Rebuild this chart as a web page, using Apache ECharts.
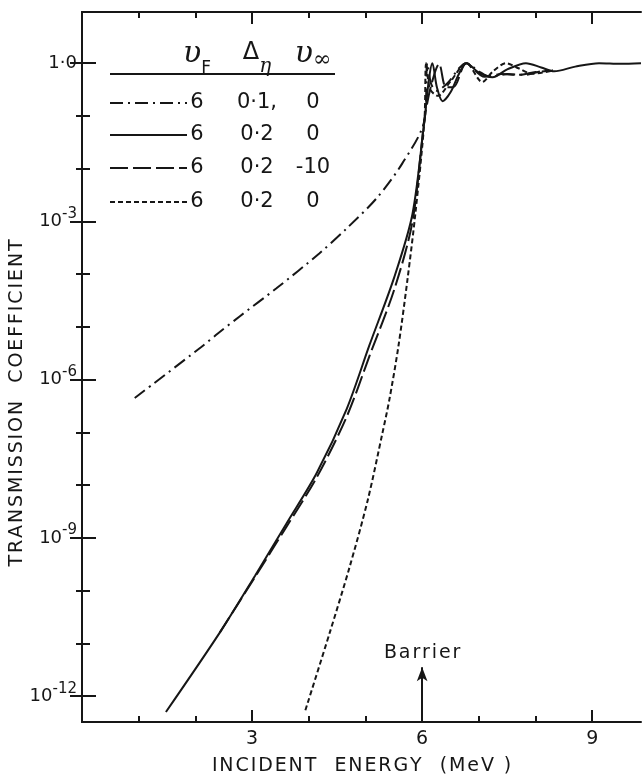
<!DOCTYPE html>
<html>
<head>
<meta charset="utf-8">
<script src="https://cdn.jsdelivr.net/npm/echarts@6/dist/echarts.min.js"></script>
<style>
  html, body { margin: 0; padding: 0; background: #ffffff; }
  #chart { width: 642px; height: 775px; }
</style>
</head>
<body>
<div id="chart"></div>
<script>
// Transmission coefficient versus incident energy (MeV) for four potential sets.

// v_F = 6, Δη = 0.1, v_∞ = 0  (dash-dot)
const energyDashDot = [0.93, 2.11, 2.39, 2.78, 3.43, 4.19, 4.67, 5.19, 5.65, 6.04, 6.09, 6.16, 6.25, 6.45, 6.65, 6.78, 7.0, 7.2, 7.5, 7.8, 8.1, 8.3];
const transDashDot  = [4.5e-7, 4.2e-6, 7.4e-6, 1.58e-5, 5.4e-5, 2.5e-4, 7.4e-4, 2.7e-3, 1.26e-2, 8.3e-2, 1.0, 0.4, 0.3, 0.42, 0.8, 1.0, 0.7, 0.55, 0.62, 0.6, 0.7, 0.74];

// v_F = 6, Δη = 0.2, v_∞ = 0  (solid)
const energySolid = [1.48, 2.43, 3.05, 3.61, 4.14, 4.67, 5.07, 5.51, 5.83, 6.04, 6.12, 6.18, 6.26, 6.36, 6.5, 6.65, 6.78, 7.0, 7.24, 7.5, 7.83, 8.1, 8.33, 8.7, 9.12, 9.5, 9.86];
const transSolid  = [5.0e-13, 1.6e-11, 1.9e-10, 1.9e-9, 1.7e-8, 2.8e-7, 4.5e-6, 8.9e-5, 1.4e-3, 8.3e-2, 0.5, 1.0, 0.35, 0.19, 0.28, 0.63, 1.0, 0.66, 0.54, 0.76, 1.0, 0.83, 0.7, 0.86, 1.0, 0.97, 1.0];

// v_F = 6, Δη = 0.2, v_∞ = -10  (long dash)
const energyLongDash = [2.43, 3.05, 3.61, 4.14, 4.67, 5.07, 5.51, 5.83, 6.04, 6.15, 6.3, 6.42, 6.55, 6.78, 7.1, 7.4, 7.7, 8.0, 8.3];
const transLongDash  = [1.6e-11, 1.8e-10, 1.65e-9, 1.4e-8, 2.0e-7, 2.8e-6, 5.2e-5, 1.0e-3, 8.3e-2, 0.35, 0.97, 0.35, 0.35, 1.0, 0.55, 0.62, 0.6, 0.68, 0.72];

// v_F = 6, Δη = 0.2, v_∞ = 0  (short dash)
const energyShortDash = [3.94, 4.37, 4.72, 5.04, 5.30, 5.42, 5.58, 5.74, 5.88, 6.04, 6.07, 6.14, 6.28, 6.5, 6.78, 7.06, 7.25, 7.48, 7.7, 7.94, 8.3];
const transShortDash  = [5.4e-13, 1.6e-11, 2.8e-10, 5.2e-9, 9.8e-8, 4.1e-7, 4.2e-6, 7.8e-5, 1.4e-3, 8.3e-2, 1.0, 0.32, 0.24, 0.45, 1.0, 0.44, 0.7, 1.0, 0.8, 0.63, 0.72];

// Axis ticks
const energyMajor = [3, 6, 9];
const energyMinor = [1, 2, 4, 5, 7, 8];
const transMajor = [1e-12, 1e-9, 1e-6, 1e-3, 1];
const transMinor = [1e-11, 1e-10, 1e-8, 1e-7, 1e-5, 1e-4, 1e-2, 1e-1];

// Legend table
const legendVF   = ['6', '6', '6', '6'];
const legendDEta = ['0·1,', '0·2', '0·2', '0·2'];
const legendVInf = ['0', '0', '-10', '0'];

// Barrier position (MeV)
const barrierEnergy = 6;

const ink = '#161616';
const font = 'DejaVu Sans';
const xMin = 0, xMax = 9.86;
const yMin = Math.pow(10, -12.49), yMax = Math.pow(10, 0.97);

const spaced = s => s.split('').join('\u200A');

function energyAxis(position, ticks, len, opts) {
  return Object.assign({
    type: 'value', position: position, min: xMin, max: xMax,
    axisLine: { show: false },
    axisTick: { inside: true, length: len, customValues: ticks, lineStyle: { color: ink, width: 2 } },
    axisLabel: { show: false },
    splitLine: { show: false }
  }, opts || {});
}
function transAxis(position, ticks, len, opts) {
  return Object.assign({
    type: 'log', logBase: 10, position: position, min: yMin, max: yMax,
    axisLine: { show: false },
    axisTick: { inside: true, length: len, customValues: ticks, lineStyle: { color: ink, width: 2 } },
    axisLabel: { show: false },
    splitLine: { show: false }
  }, opts || {});
}

const chart = echarts.init(document.getElementById('chart'), null, { renderer: 'canvas' });

const lineStyles = [
  { type: [13, 5, 2, 5] },
  { type: 'solid' },
  { type: [18, 5] },
  { type: [5, 3] }
];
const energies = [energyDashDot, energySolid, energyLongDash, energyShortDash];
const trans = [transDashDot, transSolid, transLongDash, transShortDash];

const series = energies.map((xs, k) => ({
  type: 'line',
  name: 'vF=' + legendVF[k] + ' Δη=' + legendDEta[k] + ' v∞=' + legendVInf[k],
  xAxisIndex: 0, yAxisIndex: 0,
  data: xs.map((x, i) => [x, trans[k][i]]),
  showSymbol: false,
  smooth: 0.3,
  clip: true,
  z: 3,
  lineStyle: Object.assign({ color: ink, width: 2 }, lineStyles[k])
}));

// Barrier arrow
series[1].markLine = {
  silent: true,
  symbol: ['none', 'arrow'],
  symbolSize: [8, 14],
  lineStyle: { color: ink, width: 2, type: 'solid' },
  label: {
    show: true, position: 'end', formatter: spaced('Barrier'), distance: 5,
    color: ink, fontFamily: font, fontSize: 19
  },
  data: [[{ coord: [barrierEnergy, yMin] }, { coord: [barrierEnergy, Math.pow(10, -11.45)] }]]
};

// Legend table
const rowY = [103, 135, 168, 202];
const colX = [197, 257, 313];
const graphic = [];
graphic.push({ type: 'line', shape: { x1: 110, y1: 74, x2: 335, y2: 74 }, style: { stroke: ink, lineWidth: 2 } });
const header = [
  { text: '{v|υ}{s|F}', x: colX[0] },
  { text: '{d|Δ}{e|η}', x: colX[1] },
  { text: '{v|υ}{i|∞}', x: colX[2] }
];
header.forEach(h => graphic.push({
  type: 'text', x: h.x, y: 52,
  style: {
    text: h.text, align: 'center', verticalAlign: 'middle', fill: ink,
    rich: {
      v: { fontFamily: 'DejaVu Serif', fontStyle: 'italic', fontSize: 30, fill: ink, lineHeight: 34, verticalAlign: 'bottom' },
      d: { fontFamily: font, fontSize: 24, fill: ink, lineHeight: 34, verticalAlign: 'bottom', padding: [0, 0, 4, 0] },
      s: { fontFamily: font, fontSize: 17, fill: ink, lineHeight: 34, verticalAlign: 'bottom', padding: [0, 0, -8, 0] },
      e: { fontFamily: 'DejaVu Serif', fontStyle: 'italic', fontSize: 20, fill: ink, lineHeight: 34, verticalAlign: 'bottom', padding: [0, 0, -8, 0] },
      i: { fontFamily: 'DejaVu Serif', fontStyle: 'italic', fontSize: 22, fill: ink, lineHeight: 34, verticalAlign: 'bottom', padding: [0, 0, -2, 0] }
    }
  }
}));
rowY.forEach((y, k) => {
  graphic.push({ type: 'line', shape: { x1: 110, y1: y, x2: 187, y2: y },
    style: { stroke: ink, lineWidth: 2, lineDash: lineStyles[k].type === 'solid' ? null : lineStyles[k].type } });
  [legendVF[k], legendDEta[k], legendVInf[k]].forEach((t, c) => graphic.push({
    type: 'text', x: colX[c], y: y,
    style: { text: t, align: 'center', verticalAlign: 'middle', fill: ink, fontFamily: font, fontSize: 21 }
  }));
});

chart.setOption({
  animation: false,
  backgroundColor: '#ffffff',
  grid: { left: 82, right: 1, top: 12, bottom: 53, show: false, containLabel: false, outerBoundsMode: 'none' },
  xAxis: [
    energyAxis('bottom', energyMajor, 12, {
      axisLine: { show: true, lineStyle: { color: ink, width: 2 } },
      axisLabel: { show: true, customValues: energyMajor, color: ink, fontFamily: font, fontSize: 19, margin: 8 },
      name: spaced('INCIDENT') + '   ' + spaced('ENERGY') + '   ' + spaced('(MeV )'),
      nameLocation: 'middle', nameGap: 35, nameMoveOverlap: false,
      nameTextStyle: { color: ink, fontFamily: font, fontSize: 19 }
    }),
    energyAxis('bottom', energyMinor, 6),
    energyAxis('top', energyMajor, 12, { axisLine: { show: true, lineStyle: { color: ink, width: 2 } } }),
    energyAxis('top', energyMinor, 6)
  ],
  yAxis: [
    transAxis('left', transMajor, 14, {
      axisLine: { show: true, lineStyle: { color: ink, width: 2 } },
      axisLabel: {
        show: true, customValues: transMajor, margin: 5,
        formatter: v => {
          const e = Math.round(Math.log10(v));
          return e === 0 ? '{n|1·0}' : '{n|10}{p|' + e + '}';
        },
        rich: {
          n: { color: ink, fontFamily: font, fontSize: 18, lineHeight: 30, verticalAlign: 'bottom', padding: [0, 0, 6, 0] },
          p: { color: ink, fontFamily: font, fontSize: 15, lineHeight: 30, verticalAlign: 'top', padding: [0, 0, 8, 0] }
        }
      },
      name: spaced('TRANSMISSION') + '   ' + spaced('COEFFICIENT'),
      nameLocation: 'middle', nameGap: 55, nameRotate: 90, nameMoveOverlap: false,
      nameTextStyle: { color: ink, fontFamily: font, fontSize: 19, padding: [0, 72, 0, 0] }
    }),
    transAxis('left', transMinor, 8),
    transAxis('right', transMajor, 12, { axisLine: { show: true, lineStyle: { color: ink, width: 2 } } }),
    transAxis('right', transMinor, 6)
  ],
  graphic: graphic,
  series: series
});
</script>
</body>
</html>
